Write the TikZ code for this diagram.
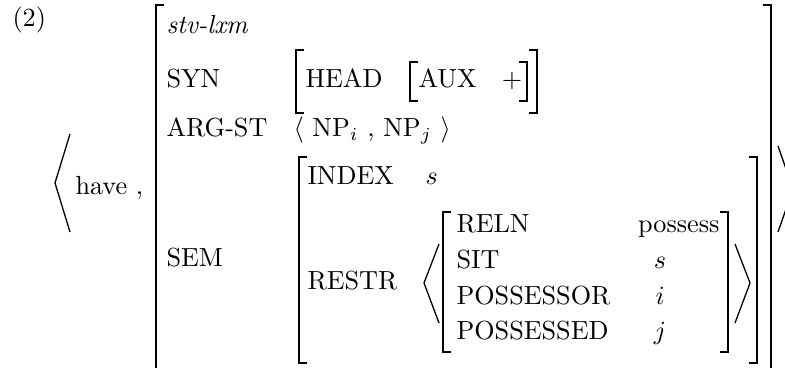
\documentclass[tikz,border=0pt]{standalone}
\tikzset{
  feat/.style={anchor=base west,inner sep=0pt},
  fval/.style={anchor=base,inner sep=0pt},
  brk/.style={draw=black,line width=.5pt},
}
% bracket helpers: x, top y, bottom y
\newcommand\avmopen[3]{\draw[brk] (#1+8,#2) -- (#1,#2) -- (#1,#3) -- (#1+8,#3);}
\newcommand\avmclose[3]{\draw[brk] (#1-8,#2) -- (#1,#2) -- (#1,#3) -- (#1-8,#3);}

\begin{document}
\begin{tikzpicture}[x=0.382pt,y=-0.382pt]
  \path[use as bounding box] (0,0) rectangle (785,368);
  \clip (0,0) rectangle (785,368);
  \node[feat] (num) at (12,27) {(2)};
  % < have , [ ... ] >
  \draw[brk] (70,134) -- (55,183) -- (70,232);
  \node[feat] (have) at (75,195) {have ,};
  \avmopen{156}{5}{380}
  \avmclose{771}{5}{380}
  \draw[brk] (778,146) -- (793,189) -- (778,232);
  \node[feat] (type) at (166,34) {\textit{stv-lxm}};
  % SYN
  \node[feat] (syn) at (166,88) {SYN};
  \avmopen{296}{50}{113}
  \node[feat] (head) at (305,88) {HEAD};
  \avmopen{410}{62}{101}
  \node[feat] (aux) at (418,88) {AUX};
  \node[fval] (plus) at (512,88) {$+$};
  \avmclose{527}{62}{101}
  \avmclose{537}{50}{113}
  % ARG-ST
  \node[feat] (argst) at (166,137) {ARG-ST};
  \node[feat] (args) at (293,137) {$\langle$ NP$_i$ , NP$_j$ $\rangle$};
  % SEM
  \node[feat] (sem) at (166,267) {SEM};
  \avmopen{299}{157}{363}
  \avmclose{757}{157}{363}
  \node[feat] (index) at (307,185) {INDEX};
  \node[feat] (indexval) at (425,185) {$s$};
  \node[feat] (restr) at (307,289) {RESTR};
  \draw[brk] (439,244) -- (424,283) -- (439,323);
  \avmopen{443}{212}{352}
  \avmclose{728}{212}{352}
  \draw[brk] (735,244) -- (750,283) -- (735,323);
  \node[feat] (reln) at (456,233) {RELN};
  \node[feat,anchor=base east] (relnval) at (720,233) {possess};
  \node[feat] (sit) at (456,268) {SIT};
  \node[fval] (sitval) at (660,268) {$s$};
  \node[feat] (poss) at (456,304) {POSSESSOR};
  \node[fval] (possval) at (660,304) {$i$};
  \node[feat] (possd) at (456,339) {POSSESSED};
  \node[fval] (possdval) at (660,339) {$j$};
\end{tikzpicture}
\end{document}
